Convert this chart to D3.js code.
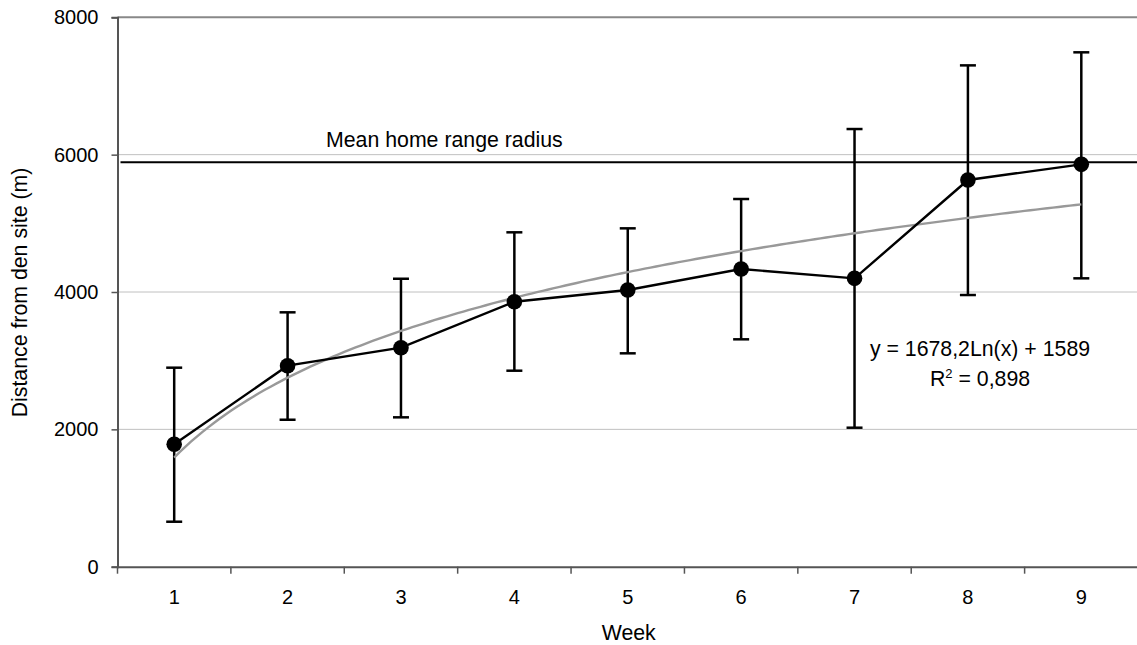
<!DOCTYPE html>
<html>
<head>
<meta charset="utf-8">
<script src="https://cdn.jsdelivr.net/npm/d3@7"></script>
<style>
  html, body { margin: 0; padding: 0; background: #fff; }
  svg { display: block; font-family: "Liberation Sans", Arial, sans-serif; }
</style>
</head>
<body>
<svg id="chart" width="1137" height="645"></svg>
<script>
// ---- data ----
const weeks = [1, 2, 3, 4, 5, 6, 7, 8, 9];
const meanDistance = [1782, 2927, 3189, 3859, 4029, 4335, 4199, 5631, 5859];
const upperError = [2898, 3704, 4193, 4869, 4927, 5354, 6373, 7300, 7490];
const lowerError = [655, 2140, 2175, 2854, 3107, 3311, 2024, 3956, 4199];
const yTicks = [0, 2000, 4000, 6000, 8000];
const meanHomeRangeRadius = [5890];
const trendCoefficients = [1678.2, 1589]; // y = a*ln(x) + b
const equationLines = ["y = 1678,2Ln(x) + 1589", "R", "2", " = 0,898"];

(function () {
// ---- layout ----
const svg = d3.select("#chart");
const pLeft = 117.5, pRight = 1138, pTop = 17.3, pBottom = 566.7;

const x = d3.scaleBand().domain(weeks).range([pLeft, pRight]).padding(0);
const xc = d => x(d) + x.bandwidth() / 2;
const xLin = d3.scaleLinear().domain([1, 9]).range([xc(1), xc(9)]);
const y = d3.scaleLinear().domain([0, 8000]).range([pBottom, pTop]);

// gridlines
svg.append("g").selectAll("line")
  .data(yTicks.filter(t => t > 0 && t < 8000))
  .join("line")
  .attr("x1", pLeft).attr("x2", 1137)
  .attr("y1", d => y(d)).attr("y2", d => y(d))
  .attr("stroke", "#c0c0c0").attr("stroke-width", 1);

// top border
svg.append("line")
  .attr("x1", pLeft).attr("x2", 1137)
  .attr("y1", y(8000)).attr("y2", y(8000))
  .attr("stroke", "#888").attr("stroke-width", 2);

// y axis
const yAxis = svg.append("g")
  .attr("transform", `translate(${pLeft},0)`)
  .call(d3.axisLeft(y).tickValues(yTicks).tickSize(6).tickPadding(13).tickFormat(d3.format("d")));
yAxis.select(".domain").attr("stroke", "#555").attr("stroke-width", 2);
yAxis.selectAll(".tick line").attr("stroke", "#555").attr("stroke-width", 1.5);
yAxis.selectAll("text").attr("font-size", 20).attr("fill", "#000")
  .attr("font-family", "Liberation Sans, Arial, sans-serif");

// x axis
const xAxis = svg.append("g")
  .attr("transform", `translate(0,${pBottom})`)
  .call(d3.axisBottom(x).tickSize(0).tickPadding(23));
xAxis.select(".domain").attr("stroke", "#555").attr("stroke-width", 2);
xAxis.selectAll("text").attr("font-size", 20).attr("fill", "#000")
  .attr("font-family", "Liberation Sans, Arial, sans-serif");
// band-boundary tick marks
svg.append("g").selectAll("line")
  .data(d3.range(weeks.length + 1))
  .join("line")
  .attr("x1", i => pLeft + i * x.bandwidth()).attr("x2", i => pLeft + i * x.bandwidth())
  .attr("y1", pBottom).attr("y2", pBottom + 7)
  .attr("stroke", "#555").attr("stroke-width", 1.5);

// mean home range line
svg.append("line")
  .attr("x1", pLeft + 3).attr("x2", 1137)
  .attr("y1", y(meanHomeRangeRadius[0])).attr("y2", y(meanHomeRangeRadius[0]))
  .attr("stroke", "#000").attr("stroke-width", 2);
svg.append("text")
  .attr("x", 326).attr("y", 147)
  .attr("font-size", 21.3).attr("fill", "#000")
  .text("Mean home range radius");

// error bars
const eb = svg.append("g").attr("stroke", "#000").attr("stroke-width", 2.5);
weeks.forEach((w, i) => {
  const cx = xc(w);
  eb.append("line").attr("x1", cx).attr("x2", cx)
    .attr("y1", y(upperError[i])).attr("y2", y(lowerError[i]));
  eb.append("line").attr("x1", cx - 8).attr("x2", cx + 8)
    .attr("y1", y(upperError[i])).attr("y2", y(upperError[i]));
  eb.append("line").attr("x1", cx - 8).attr("x2", cx + 8)
    .attr("y1", y(lowerError[i])).attr("y2", y(lowerError[i]));
});

// trend line (log fit)
const trendX = d3.range(1, 9.0001, 0.05);
svg.append("path")
  .datum(trendX)
  .attr("fill", "none").attr("stroke", "#999").attr("stroke-width", 2.4)
  .attr("d", d3.line().x(d => xLin(d)).y(d => y(trendCoefficients[0] * Math.log(d) + trendCoefficients[1])));

// data line
svg.append("path")
  .datum(weeks.map((w, i) => [xc(w), y(meanDistance[i])]))
  .attr("fill", "none").attr("stroke", "#000").attr("stroke-width", 2.4)
  .attr("d", d3.line());

// markers
svg.append("g").selectAll("circle")
  .data(weeks)
  .join("circle")
  .attr("cx", d => xc(d))
  .attr("cy", (d, i) => y(meanDistance[i]))
  .attr("r", 7.8)
  .attr("fill", "#000");

// equation
svg.append("text")
  .attr("x", 980).attr("y", 356)
  .attr("text-anchor", "middle").attr("font-size", 21.3)
  .text(equationLines[0]);
const r2 = svg.append("text")
  .attr("x", 980).attr("y", 386)
  .attr("text-anchor", "middle").attr("font-size", 21.3);
r2.append("tspan").text(equationLines[1]);
r2.append("tspan").attr("dy", -8).attr("font-size", 13).text(equationLines[2]);
r2.append("tspan").attr("dy", 8).text(equationLines[3]);

// axis titles
svg.append("text")
  .attr("x", (pLeft + pRight) / 2 + 1).attr("y", 640)
  .attr("text-anchor", "middle").attr("font-size", 21.3)
  .text("Week");
svg.append("text")
  .attr("transform", `translate(27,292.5) rotate(-90)`)
  .attr("text-anchor", "middle").attr("font-size", 21.3)
  .text("Distance from den site (m)");
})();
</script>
</body>
</html>
